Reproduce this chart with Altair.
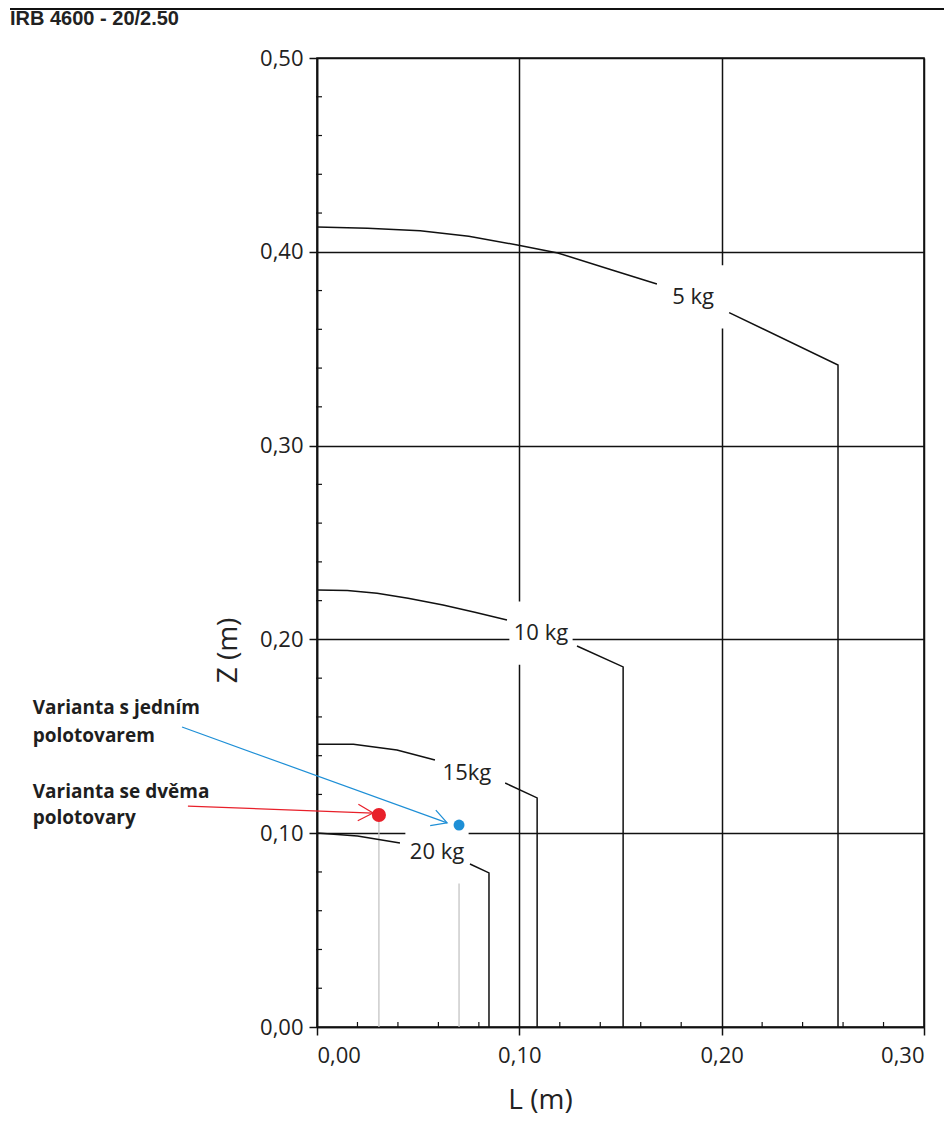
import math
import altair as alt
import pandas as pd

W, H = 607, 969
X_MAX, Y_MAX = 0.30, 0.50

# ---- payload curves (segment before label, segment after label incl. vertical drop)
c5_a_L = [0, 0.025, 0.051, 0.075, 0.099, 0.119, 0.145, 0.168]
c5_a_Z = [0.4128, 0.4122, 0.4109, 0.4080, 0.4035, 0.3994, 0.3909, 0.3834]
c5_b_L = [0.2037, 0.2575, 0.2575]
c5_b_Z = [0.3686, 0.3416, 0.0]

c10_a_L = [0, 0.015, 0.0297, 0.045, 0.0623, 0.078, 0.0939]
c10_a_Z = [0.2255, 0.2252, 0.2238, 0.2212, 0.2177, 0.2140, 0.2100]
c10_b_L = [0.1285, 0.1513, 0.1513]
c10_b_Z = [0.1966, 0.1858, 0.0]

c15_a_L = [0, 0.018, 0.0395, 0.0583]
c15_a_Z = [0.1459, 0.1459, 0.1429, 0.1378]
c15_b_L = [0.093, 0.1088, 0.1088]
c15_b_Z = [0.1259, 0.1182, 0.0]

c20_a_L = [0, 0.02, 0.041]
c20_a_Z = [0.1001, 0.0985, 0.0949]
c20_b_L = [0.0756, 0.085, 0.085]
c20_b_Z = [0.0841, 0.0795, 0.0]

label_text = ["5 kg", "10 kg", "15kg", "20 kg"]
label_L = [0.1859, 0.1107, 0.0741, 0.0593]
label_Z = [0.3767, 0.2033, 0.1310, 0.0903]

# ---- variant points
pt_name = ["dvě", "jeden"]
pt_L = [0.0306, 0.0702]
pt_Z = [0.1094, 0.1042]
pt_color = ["#e8202a", "#1e8fd6"]
pt_size = [200, 120]

# ---- annotation texts
ann_text = ["Varianta s jedním", "polotovarem", "Varianta se dvěma", "polotovary"]
ann_L = [-0.1405, -0.1405, -0.1405, -0.1405]
ann_Z = [0.1648, 0.1499, 0.1214, 0.1079]

# ---- arrows (start -> tip)
arr_L0 = [-0.0638, -0.0667]
arr_Z0 = [0.1140, 0.1548]
arr_L1 = [0.0277, 0.0643]
arr_Z1 = [0.1104, 0.1053]
arr_color = ["#e8202a", "#1e8fd6"]

major_x = [0.0, 0.1, 0.2, 0.3]
major_y = [0.0, 0.1, 0.2, 0.3, 0.4, 0.5]
minor_x = [0.02, 0.04, 0.06, 0.08, 0.12, 0.14, 0.16, 0.18, 0.22, 0.24, 0.26, 0.28]
minor_y = [0.02, 0.04, 0.06, 0.08, 0.12, 0.14, 0.16, 0.18, 0.22, 0.24, 0.26, 0.28,
           0.32, 0.34, 0.36, 0.38, 0.42, 0.44, 0.46, 0.48]

rows = []
for name, segs in [("5", [(c5_a_L, c5_a_Z), (c5_b_L, c5_b_Z)]),
                   ("10", [(c10_a_L, c10_a_Z), (c10_b_L, c10_b_Z)]),
                   ("15", [(c15_a_L, c15_a_Z), (c15_b_L, c15_b_Z)]),
                   ("20", [(c20_a_L, c20_a_Z), (c20_b_L, c20_b_Z)])]:
    for si, (Ls, Zs) in enumerate(segs):
        for i, (l, z) in enumerate(zip(Ls, Zs)):
            rows.append({"seg": f"{name}_{si}", "L": l, "Z": z, "i": i})
curves = pd.DataFrame(rows)

labels = pd.DataFrame({"t": label_text, "L": label_L, "Z": label_Z})
pts = pd.DataFrame({"n": pt_name, "L": pt_L, "Z": pt_Z, "c": pt_color, "s": pt_size, "Z0": 0.0})
ann = pd.DataFrame({"t": ann_text, "L": ann_L, "Z": ann_Z})

px_L = W / X_MAX
px_Z = H / Y_MAX
arr = pd.DataFrame({"L0": arr_L0, "Z0": arr_Z0, "L1": arr_L1, "Z1": arr_Z1, "c": arr_color})
arr["ang"] = [
    math.degrees(math.atan2(-(z1 - z0) * px_Z, (l1 - l0) * px_L)) % 360
    for l0, z0, l1, z1 in zip(arr_L0, arr_Z0, arr_L1, arr_Z1)
]

FONT = "Open Sans"
label_expr = "replace(format(datum.value, '.2f'), '.', ',')"

xs = alt.Scale(domain=[0, X_MAX], nice=False, zero=False)
ys = alt.Scale(domain=[0, Y_MAX], nice=False, zero=False)

x_axis = alt.Axis(values=major_x, labelExpr=label_expr, grid=True, gridColor="#111",
                  gridWidth=1.5, domainColor="#111", domainWidth=1.6, tickColor="#111",
                  tickWidth=1.5, tickSize=8, labelFontSize=22, labelFont=FONT,
                  labelColor="#222", labelPadding=10, title="L (m)", titleFont=FONT,
                  titleFontSize=28, titleFontWeight="normal", titleColor="#222",
                  titleX=223, titleY=73, titleBaseline="middle", titleAlign="center")
y_axis = alt.Axis(values=major_y, labelExpr=label_expr, grid=True, gridColor="#111",
                  gridWidth=1.5, domainColor="#111", domainWidth=1.6, tickColor="#111",
                  tickWidth=1.5, tickSize=8, labelFontSize=22, labelFont=FONT,
                  labelColor="#222", labelPadding=6, title="Z (m)", titleFont=FONT,
                  titleFontSize=28, titleFontWeight="normal", titleColor="#222",
                  titleX=-89, titleY=592, titleBaseline="middle", titleAlign="center",
                  titleAngle=270)

base = alt.Chart(curves)

grid_layer = alt.Chart(pd.DataFrame({"L": [0.0], "Z": [0.0]})).mark_point(opacity=0).encode(
    x=alt.X("L:Q", scale=xs, axis=x_axis),
    y=alt.Y("Z:Q", scale=ys, axis=y_axis),
)

minor_x_layer = alt.Chart(pd.DataFrame({"v": minor_x})).mark_rule(color="#111", strokeWidth=1.2).encode(
    x=alt.X("v:Q", scale=xs), y=alt.value(H), y2=alt.value(H - 5))
minor_y_layer = alt.Chart(pd.DataFrame({"v": minor_y})).mark_rule(color="#111", strokeWidth=1.2).encode(
    y=alt.Y("v:Q", scale=ys), x=alt.value(-1), x2=alt.value(5))

drop_layer = alt.Chart(pts).mark_rule(color="#c4c4c4", strokeWidth=1.3).encode(
    x=alt.X("L:Q", scale=xs), y=alt.Y("Z:Q", scale=ys), y2="Z0:Q")

bg_layer = alt.Chart(labels).mark_square(filled=True, color="white", opacity=1, size=4000).encode(
    x=alt.X("L:Q", scale=xs), y=alt.Y("Z:Q", scale=ys))

curve_layer = base.mark_line(color="#111", strokeWidth=1.5).encode(
    x=alt.X("L:Q", scale=xs), y=alt.Y("Z:Q", scale=ys), detail="seg:N", order="i:Q")

label_layer = alt.Chart(labels).mark_text(font=FONT, fontSize=22, color="#222",
                                           align="center", baseline="middle").encode(
    x=alt.X("L:Q", scale=xs), y=alt.Y("Z:Q", scale=ys), text="t:N")

arrow_line = alt.Chart(arr).mark_rule(strokeWidth=1.2).encode(
    x=alt.X("L0:Q", scale=xs), y=alt.Y("Z0:Q", scale=ys), x2="L1:Q", y2="Z1:Q",
    color=alt.Color("c:N", scale=None))
arrow_head = alt.Chart(arr).mark_point(shape="M-1,-0.55L0,0L-1,0.55", filled=False,
                                       size=900, strokeWidth=1.2, opacity=1).encode(
    x=alt.X("L1:Q", scale=xs), y=alt.Y("Z1:Q", scale=ys),
    angle=alt.Angle("ang:Q", scale=None),
    color=alt.Color("c:N", scale=None))

pt_layer = alt.Chart(pts).mark_circle(opacity=1).encode(
    x=alt.X("L:Q", scale=xs), y=alt.Y("Z:Q", scale=ys),
    color=alt.Color("c:N", scale=None), size=alt.Size("s:Q", scale=None))

ann_layer = alt.Chart(ann).mark_text(font=FONT, fontSize=19, fontWeight="bold", color="#1e1e1e",
                                      align="left", baseline="middle").encode(
    x=alt.X("L:Q", scale=xs), y=alt.Y("Z:Q", scale=ys), text="t:N")

title_layer = alt.Chart(pd.DataFrame({"t": ["IRB 4600 - 20/2.50"]})).mark_text(
    font="Liberation Sans", fontSize=20, fontWeight="bold", color="#222",
    align="left", baseline="middle").encode(
    x=alt.value(-307), y=alt.value(-39), text="t:N")

top_rule = alt.Chart(pd.DataFrame({"a": [0]})).mark_rule(color="#111", strokeWidth=2).encode(
    x=alt.value(-307), x2=alt.value(627), y=alt.value(-49))

chart = alt.layer(
    grid_layer, minor_x_layer, minor_y_layer, drop_layer, bg_layer, curve_layer,
    label_layer, arrow_line, arrow_head, pt_layer, ann_layer, title_layer, top_rule
).properties(
    width=W, height=H,
    autosize=alt.AutoSizeParams(type="none"),
    padding={"left": 309, "top": 50, "right": 20, "bottom": 91},
).configure_view(stroke="#111", strokeWidth=1.6)

chart.save("out.html", embed_options={"renderer": "svg", "actions": False})
